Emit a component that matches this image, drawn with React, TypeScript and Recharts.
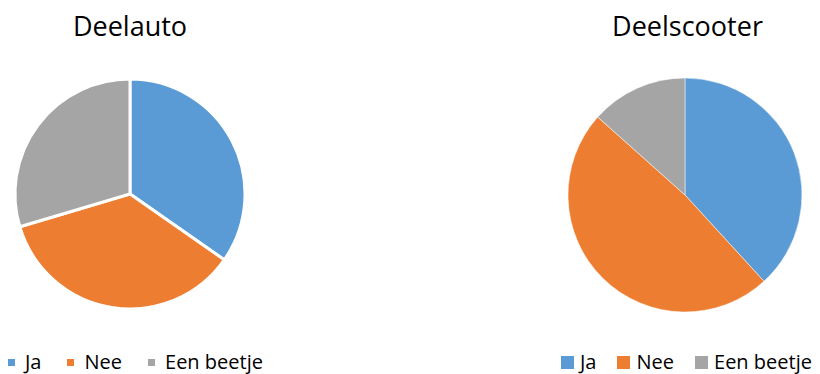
import React from 'react';
import { PieChart, Pie, Cell, Legend } from 'recharts';

const categories = ['Ja', 'Nee', 'Een beetje'];
const colors = ['#5B9BD5', '#ED7D31', '#A5A5A5'];
const deelautoValues = [34.7, 35.7, 29.6];
const deelscooterValues = [38.2, 48.4, 13.4];

const FONT = '"Open Sans", sans-serif';

interface PanelProps {
  title: string;
  values: number[];
  left: number;
  width: number;
  cx: number;
  cy: number;
  radius: number;
  strokeWidth: number;
  iconSize: number;
  textGap: number;
  itemGap: number;
  legendLeft: number;
}

const PiePanel: React.FC<PanelProps> = (p) => {
  const data = categories.map((name, i) => ({ name, value: p.values[i] }));

  const renderLegend = () => (
    <div style={{ display: 'flex', alignItems: 'center', fontFamily: FONT, fontSize: 20, lineHeight: '20px', height: 20, color: '#000' }}>
      {categories.map((name, i) => (
        <div key={name} style={{ display: 'flex', alignItems: 'center', marginRight: p.itemGap }}>
          <span style={{ display: 'inline-block', width: p.iconSize, height: p.iconSize, background: colors[i], marginRight: p.textGap }} />
          <span style={{ whiteSpace: 'nowrap' }}>{name}</span>
        </div>
      ))}
    </div>
  );

  return (
    <div style={{ position: 'absolute', left: p.left, top: 0, width: p.width, height: 374 }}>
      <div style={{ position: 'absolute', left: 0, top: 7, width: p.width, textAlign: 'center', fontFamily: FONT, fontSize: 27, lineHeight: '37px', color: '#000' }}>
        {p.title}
      </div>
      <PieChart width={p.width} height={374} margin={{ top: 0, right: 0, bottom: 0, left: 0 }}>
        <Pie
          data={data}
          dataKey="value"
          nameKey="name"
          cx={p.cx}
          cy={p.cy}
          outerRadius={p.radius}
          startAngle={90}
          endAngle={-270}
          stroke="#ffffff"
          strokeWidth={p.strokeWidth}
          isAnimationActive={false}
        >
          {data.map((entry, index) => (
            <Cell key={`cell-${index}`} fill={colors[index]} />
          ))}
        </Pie>
        <Legend
          verticalAlign="bottom"
          content={renderLegend}
          wrapperStyle={{ position: 'absolute', left: p.legendLeft, top: 352, bottom: 'auto', width: 'auto', height: 20, overflow: 'visible' }}
        />
      </PieChart>
    </div>
  );
};

export default function App() {
  return (
    <div style={{ position: 'absolute', left: 0, top: 0, width: 820, height: 374, background: '#fff', overflow: 'hidden' }}>
      <PiePanel
        title="Deelauto"
        values={deelautoValues}
        left={0}
        width={260}
        cx={130}
        cy={194}
        radius={115}
        strokeWidth={3}
        iconSize={7}
        textGap={10}
        itemGap={26}
        legendLeft={8}
      />
      <PiePanel
        title="Deelscooter"
        values={deelscooterValues}
        left={555}
        width={265}
        cx={130}
        cy={195}
        radius={117}
        strokeWidth={0.5}
        iconSize={13}
        textGap={6}
        itemGap={21}
        legendLeft={6}
      />
    </div>
  );
}
